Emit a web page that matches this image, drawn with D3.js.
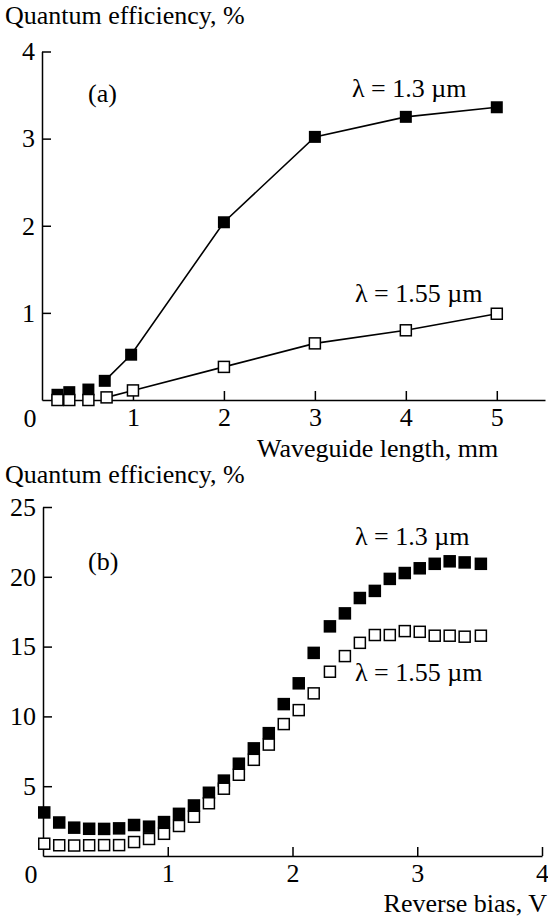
<!DOCTYPE html>
<html>
<head>
<meta charset="utf-8">
<script src="https://cdn.jsdelivr.net/npm/d3@7"></script>
<style>
  html, body { margin: 0; padding: 0; background: #fff; }
  svg { display: block; }
  text { font-family: "Liberation Serif", "Times New Roman", serif; font-size: 26px; fill: #000; }
  .axis path, .axis line { stroke: #000; stroke-width: 1.5px; }
  .axis text { font-family: "Liberation Serif", "Times New Roman", serif; font-size: 26px; }
</style>
</head>
<body>
<script>
// panel (a): quantum efficiency vs waveguide length
const lengthFilled = [0.17, 0.30, 0.51, 0.69, 0.98, 2, 3, 4, 5];
const qe13a = [0.06, 0.09, 0.12, 0.22, 0.52, 2.04, 3.02, 3.25, 3.36];
const lengthOpen = [0.17, 0.30, 0.51, 0.71, 1.0, 2, 3, 4, 5];
const qe155a = [0.0, 0.0, 0.0, 0.03, 0.11, 0.38, 0.65, 0.80, 0.99];
const ticksXa = [1, 2, 3, 4, 5];
const ticksYa = [1, 2, 3, 4];

// panel (b): quantum efficiency vs reverse bias
const bias = [0.01, 0.13, 0.25, 0.37, 0.49, 0.61, 0.73, 0.85, 0.97, 1.09,
              1.21, 1.33, 1.45, 1.57, 1.69, 1.81, 1.93, 2.05, 2.17, 2.30,
              2.42, 2.54, 2.66, 2.78, 2.90, 3.02, 3.14, 3.26, 3.38, 3.51];
const qe13b = [3.12, 2.40, 2.03, 1.95, 1.94, 1.98, 2.22, 2.10, 2.43, 3.02,
               3.62, 4.53, 5.40, 6.61, 7.71, 8.80, 10.88, 12.37, 14.55, 16.45,
               17.38, 18.48, 18.99, 19.85, 20.27, 20.61, 20.93, 21.11, 21.03, 20.93];
const qe155b = [0.88, 0.77, 0.75, 0.77, 0.78, 0.78, 1.00, 1.22, 1.59, 2.15,
                2.81, 3.78, 4.82, 5.82, 6.89, 7.98, 9.45, 10.45, 11.65, 13.20,
                14.32, 15.27, 15.83, 15.83, 16.11, 16.06, 15.78, 15.78, 15.71, 15.78];
const ticksXb = [1, 2, 3, 4];
const ticksYb = [5, 10, 15, 20, 25];

const W = 548, H = 917;
const svg = d3.select('body').append('svg')
    .attr('width', W)
    .attr('height', H);

function zip(xs, ys) {
    return xs.map((x, i) => ({ x: x, y: ys[i], i: i }));
}

function drawAxes(x, y, xt, yt) {
    svg.append('g')
        .attr('class', 'axis')
        .attr('transform', `translate(0, ${y.range()[0]})`)
        .call(d3.axisBottom(x).tickValues(xt).tickSizeInner(-9).tickSizeOuter(0).tickPadding(8).tickFormat(d3.format('d')));

    svg.append('g')
        .attr('class', 'axis')
        .attr('transform', `translate(${x.range()[0]}, 0)`)
        .call(d3.axisLeft(y).tickValues(yt).tickSizeInner(-9).tickSizeOuter(0).tickPadding(7).tickFormat(d3.format('d')));

    // shared corner zero
    svg.append('text')
        .attr('x', x(0) - 12)
        .attr('y', y(0) + 26.5)
        .attr('text-anchor', 'middle')
        .text('0');
}

function drawSquares(data, x, y, filled, size) {
    svg.append('g')
        .selectAll('rect')
        .data(data)
        .enter()
        .append('rect')
        .attr('x', d => x(d.x) - size / 2)
        .attr('y', d => y(d.y) - size / 2)
        .attr('width', size)
        .attr('height', size)
        .attr('fill', filled ? '#000' : '#fff')
        .attr('stroke', '#000')
        .attr('stroke-width', filled ? 0 : 1.5);
}

function drawLine(data, x, y) {
    svg.append('path')
        .datum(data)
        .attr('fill', 'none')
        .attr('stroke', '#000')
        .attr('stroke-width', 1.6)
        .attr('d', d3.line().x(d => x(d.x)).y(d => y(d.y)));
}

// ---- panel (a)
const xA = d3.scaleLinear().domain([0, 5.53]).range([42, 545]);
const yA = d3.scaleLinear().domain([0, 4]).range([400, 51.5]);

svg.append('text').attr('x', 5).attr('y', 24).text('Quantum efficiency, %');
drawAxes(xA, yA, ticksXa, ticksYa);

const a13 = zip(lengthFilled, qe13a);
const a155 = zip(lengthOpen, qe155a);
drawLine(a13.filter(d => d.i >= 3), xA, yA);
drawLine(a155.filter(d => d.i >= 3), xA, yA);
drawSquares(a13, xA, yA, true, 12);
drawSquares(a155, xA, yA, false, 11);

svg.append('text').attr('x', 88).attr('y', 102).text('(a)');
svg.append('text').attr('x', 352).attr('y', 97).text('λ = 1.3 µm');
svg.append('text').attr('x', 355).attr('y', 302).text('λ = 1.55 µm');
svg.append('text').attr('x', 257).attr('y', 457).text('Waveguide length, mm');

// ---- panel (b)
const xB = d3.scaleLinear().domain([0, 4]).range([43, 542]);
const yB = d3.scaleLinear().domain([0, 25]).range([856, 507]);

svg.append('text').attr('x', 5).attr('y', 483).text('Quantum efficiency, %');
drawAxes(xB, yB, ticksXb, ticksYb);

drawSquares(zip(bias, qe13b), xB, yB, true, 12.5);
drawSquares(zip(bias, qe155b), xB, yB, false, 11);

svg.append('text').attr('x', 88).attr('y', 570).text('(b)');
svg.append('text').attr('x', 355).attr('y', 545).text('λ = 1.3 µm');
svg.append('text').attr('x', 355).attr('y', 681).text('λ = 1.55 µm');
svg.append('text').attr('x', 547).attr('y', 912).attr('text-anchor', 'end').text('Reverse bias, V');
</script>
</body>
</html>
